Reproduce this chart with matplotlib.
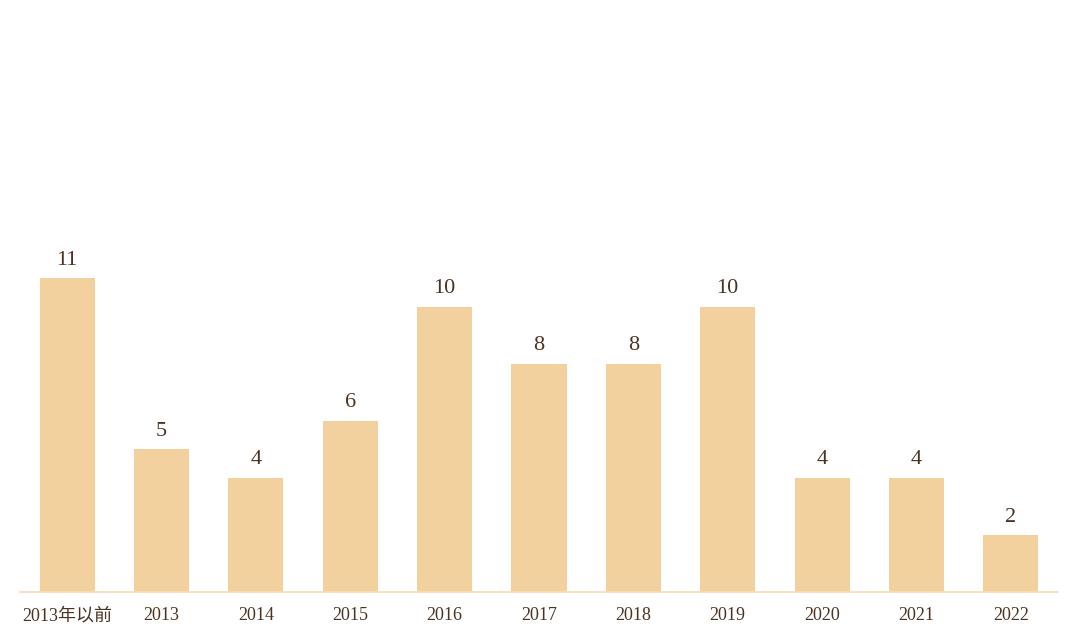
import matplotlib.pyplot as plt

categories = ["2013年以前", "2013", "2014", "2015", "2016", "2017",
              "2018", "2019", "2020", "2021", "2022"]
counts = [11, 5, 4, 6, 10, 8, 8, 10, 4, 4, 2]

bar_color = "#F3D19E"
text_color = "#4A3322"
fonts = ["Liberation Serif", "Noto Sans CJK SC"]

fig = plt.figure(figsize=(10.8, 6.4), dpi=100)
ax = fig.add_axes([20 / 1080, 48 / 640, 1038 / 1080, 571 / 640])

x = list(range(len(categories)))
bars = ax.bar(x, counts, width=0.583, color=bar_color)

for xi, v in zip(x, counts):
    ax.annotate(str(v), (xi, v), xytext=(0, 6), textcoords="offset points",
                ha="center", va="bottom", fontsize=16, color=text_color,
                family=fonts)

ax.set_xlim(-0.5, 10.5)
ax.set_ylim(0, 20)
ax.set_xticks(x)
ax.set_xticklabels(categories, family=fonts, fontsize=13, color=text_color)
ax.tick_params(axis="x", length=0, pad=11)
ax.set_yticks([])
for side in ["top", "left", "right"]:
    ax.spines[side].set_visible(False)
ax.spines["bottom"].set_color("#F5DDB0")
ax.spines["bottom"].set_linewidth(1.2)

fig.savefig("out.png", dpi=100)
